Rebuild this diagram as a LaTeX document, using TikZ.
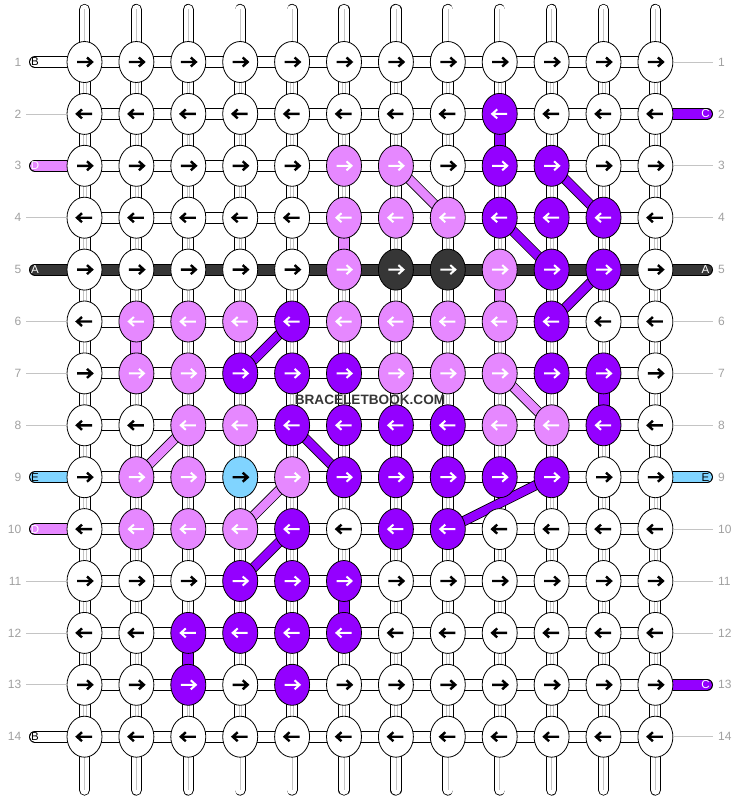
\documentclass[tikz,border=0pt]{standalone}
\usepackage{fontspec}
\setmainfont{Liberation Sans}
\usetikzlibrary{shapes.geometric}

\definecolor{kw}{HTML}{FFFFFF}
\definecolor{kp}{HTML}{E688FF}
\definecolor{kv}{HTML}{9400FF}
\definecolor{kd}{HTML}{363636}
\definecolor{kb}{HTML}{80D4FF}
\definecolor{numgray}{HTML}{A0A0A0}
\definecolor{linegray}{HTML}{C4C4C4}

\tikzset{
  knot/.style={ellipse, draw=black, line width=0.8pt, minimum width=35pt, minimum height=41pt, inner sep=0pt},
  strand/.style={draw=black, line width=1pt, double=#1, double distance=10pt},
  thin strand/.style={draw=black, line width=0.8pt, double=#1, double distance=8.5pt},
  twin/.style={draw=linegray, line width=0.6pt},
  solidarr/.style={draw=black, line width=2.4pt},
  hollowarr/.style={draw=white, line width=2pt, preaction={draw=black, line width=4.2pt}},
  arr-w/.style={solidarr}, arr-b/.style={solidarr},
  arr-p/.style={hollowarr}, arr-v/.style={hollowarr}, arr-d/.style={hollowarr},
  rarr/.pic={\draw[pic actions] (-7.5,0) -- (7.5,0) (2.5,-4.5) -- (7.5,0) -- (2.5,4.5);},
  larr/.pic={\draw[pic actions] (7.5,0) -- (-7.5,0) (-2.5,-4.5) -- (-7.5,0) -- (-2.5,4.5);},
  rownum/.style={text=numgray, font=\fontsize{12}{12}\selectfont, inner sep=0pt},
  rowline/.style={draw=linegray, line width=0.8pt},
  endlabel/.style={font=\fontsize{11.5}{12}\selectfont, inner sep=0pt}
}

\begin{document}
\begin{tikzpicture}[x=1pt,y=1pt,yscale=-1,xscale=1]
\useasboundingbox (0,0) rectangle (740,800);

% grid points
\foreach \r in {1,...,14}{
  \foreach \c in {1,...,12}{
    \coordinate (p-\r-\c) at ({84.5+(\c-1)*51.9},{62+(\r-1)*51.9});
  }
}

% loose ends at top and bottom
\foreach \c in {1,...,12}{
  \coordinate (t-\c) at ({84.5+(\c-1)*51.9},9.5);
  \coordinate (u-\c) at ({84.5+(\c-1)*51.9},790);
  \draw[strand=kw, line width=0.8pt, double distance=9.6pt, line cap=round] (t-\c) -- (p-1-\c);
  \draw[strand=kw, line width=0.8pt, double distance=9.6pt, line cap=round] (p-14-\c) -- (u-\c);
  \draw[twin] (t-\c) -- (p-1-\c);
  \draw[twin] (p-14-\c) -- (u-\c);
}

% strings between the rows
\foreach \r [evaluate=\r as \s using int(\r+1)] in {1,...,13}{
  \foreach \c in {1,...,12}{
    \draw[strand=kw] (p-\r-\c) -- (p-\s-\c);
    \draw[twin] ([xshift=-1.4pt]p-\r-\c) -- ([xshift=-1.4pt]p-\s-\c);
    \draw[twin] ([xshift=1.4pt]p-\r-\c) -- ([xshift=1.4pt]p-\s-\c);
  }
}
\foreach \r/\c/\col in {2/9/kv, 4/6/kp, 5/9/kp, 6/2/kp, 7/11/kv, 11/6/kv, 12/3/kv}{
  \pgfmathtruncatemacro\s{\r+1}
  \draw[strand=\col] (p-\r-\c) -- (p-\s-\c);
}

% knotting strings along the rows
\foreach \r in {1,...,14}{
  \draw[strand=kw] (p-\r-1) -- (p-\r-12);
}
\draw[strand=kd] (p-5-1) -- (p-5-12);

% strings coming in at the left
\foreach \r/\col/\lab/\tc in {1/kw/B/black, 3/kp/D/white, 5/kd/A/white, 9/kb/E/black, 10/kp/D/white, 14/kw/B/black}{
  \coordinate (le-\r) at (35,{62+(\r-1)*51.9});
  \draw[strand=\col, line cap=round] (le-\r) -- (p-\r-1);
  \node[endlabel, text=\tc] (ll-\r) at (35,{62+(\r-1)*51.9}) {\lab};
}
% strings going out at the right
\foreach \r/\col/\lab/\tc in {2/kv/C/white, 5/kd/A/white, 9/kb/E/black, 13/kv/C/white}{
  \coordinate (re-\r) at (707,{62+(\r-1)*51.9});
  \draw[strand=\col, line cap=round] (p-\r-12) -- (re-\r);
  \node[endlabel, text=\tc] (lr-\r) at (705.5,{62+(\r-1)*51.9}) {\lab};
}

% slanting strings
\foreach \ra/\ca/\rb/\cb/\col in {3/7/4/8/kp, 3/10/4/11/kv, 4/9/5/10/kv, 5/11/6/10/kv, 6/5/7/4/kv,
    7/9/8/10/kp, 8/3/9/2/kp, 8/5/9/6/kv, 9/5/10/4/kp, 9/10/10/8/kv, 10/5/11/4/kv}{
  \draw[thin strand=\col] (p-\ra-\ca) -- (p-\rb-\cb);
}

% knots
\foreach \r/\adir/\cols in {
    1/rarr/{w,w,w,w,w,w,w,w,w,w,w,w},
    2/larr/{w,w,w,w,w,w,w,w,v,w,w,w},
    3/rarr/{w,w,w,w,w,p,p,w,v,v,w,w},
    4/larr/{w,w,w,w,w,p,p,p,v,v,v,w},
    5/rarr/{w,w,w,w,w,p,d,d,p,v,v,w},
    6/larr/{w,p,p,p,v,p,p,p,p,v,w,w},
    7/rarr/{w,p,p,v,v,v,p,p,p,v,v,w},
    8/larr/{w,w,p,p,v,v,v,v,p,p,v,w},
    9/rarr/{w,p,p,b,p,v,v,v,v,v,w,w},
    10/larr/{w,p,p,p,v,w,v,v,w,w,w,w},
    11/rarr/{w,w,w,v,v,v,w,w,w,w,w,w},
    12/larr/{w,w,v,v,v,v,w,w,w,w,w,w},
    13/rarr/{w,w,v,w,v,w,w,w,w,w,w,w},
    14/larr/{w,w,w,w,w,w,w,w,w,w,w,w}}{
  \foreach \k [count=\c] in \cols {
    \node[knot, fill=k\k] (k-\r-\c) at (p-\r-\c) {};
    \pic[arr-\k] at (k-\r-\c) {\adir};
  }
}

% row numbers
\foreach \r in {1,...,14}{
  \node[rownum, anchor=east] (nl-\r) at (21.5,{62+(\r-1)*51.9}) {\r};
  \node[rownum, anchor=west] (nr-\r) at (718,{62+(\r-1)*51.9}) {\r};
}
\foreach \r in {2,4,6,7,8,11,12,13}{
  \draw[rowline] ([xshift=4.5pt]nl-\r.east) -- (k-\r-1.west);
}
\foreach \r in {1,3,4,6,7,8,10,11,12,14}{
  \draw[rowline] (k-\r-12.east) -- ([xshift=-5pt]nr-\r.west);
}

% watermark
\node[text=kd, font=\bfseries\fontsize{13.6}{14}\selectfont, inner sep=0pt] (mark) at (370,399.5) {BRACELETBOOK.COM};

\end{tikzpicture}
\end{document}
